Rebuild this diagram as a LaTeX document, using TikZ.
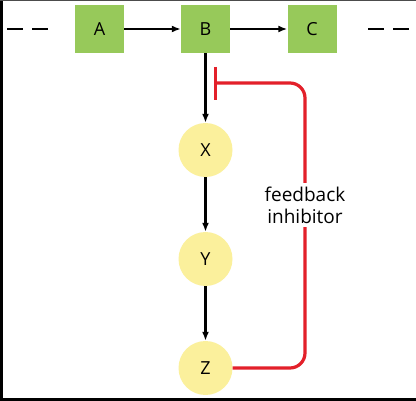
\documentclass[tikz,border=0pt]{standalone}
\usepackage{fontspec}
\setmainfont{Open Sans}
\usetikzlibrary{arrows.meta}
\definecolor{boxgreen}{HTML}{97C95A}
\definecolor{circyellow}{HTML}{FBF09C}
\definecolor{inhred}{HTML}{E3202A}
\begin{document}
\begin{tikzpicture}[x=1pt,y=-1pt,
  enzbox/.style={fill=boxgreen,minimum width=49pt,minimum height=48pt,inner sep=0pt,font=\fontsize{18}{20}\selectfont},
  metab/.style={circle,fill=circyellow,minimum size=54pt,inner sep=0pt,font=\fontsize{18}{20}\selectfont},
  flow/.style={line width=2.5pt,-{Latex[length=9pt,width=7pt]}},
  dashline/.style={line width=2.2pt,dash pattern=on 16pt off 9pt},
  inh/.style={line width=3.2pt,inhred,rounded corners=15pt},
  lbl/.style={font=\fontsize{19}{22}\selectfont,align=center,fill=white,inner sep=4pt}]
\useasboundingbox (0,0) rectangle (416,401);
\fill[white] (0,0) rectangle (416,401);
\draw[line width=2.5pt] (1.25,0) -- (1.25,401);
\draw[line width=3pt] (0,399.5) -- (416,399.5);
\draw[line width=0.8pt,black!70] (0,0.4) -- (416,0.4);
\node[enzbox] (A) at (99.5,29) {A};
\node[enzbox] (B) at (205.5,29) {B};
\node[enzbox] (C) at (312,29) {C};
\node[metab] (X) at (205.5,150) {X};
\node[metab] (Y) at (205.5,259) {Y};
\node[metab] (Z) at (205.5,368) {Z};
\coordinate (l1) at (7,29);
\coordinate (l2) at (50,29);
\coordinate (r1) at (368,29);
\coordinate (r2) at (411,29);
\draw[dashline] (l1) -- (l2);
\draw[dashline] (r1) -- (r2);
\draw[flow] (A) -- (B);
\draw[flow] (B) -- (C);
\draw[flow] (B) -- (X);
\draw[flow] (X) -- (Y);
\draw[flow] (Y) -- (Z);
\coordinate (ctop) at (305,83);
\coordinate (bar) at (215.5,83);
\coordinate (bt) at (215.5,67);
\coordinate (bb) at (215.5,100);
\draw[inh] (Z.east) -- (Z.east -| ctop) -- (ctop) -- (bar);
\draw[line width=3.2pt,inhred] (bt) -- (bb);
\node[lbl] (fb) at (305,205) {feedback\\inhibitor};
\end{tikzpicture}
\end{document}
